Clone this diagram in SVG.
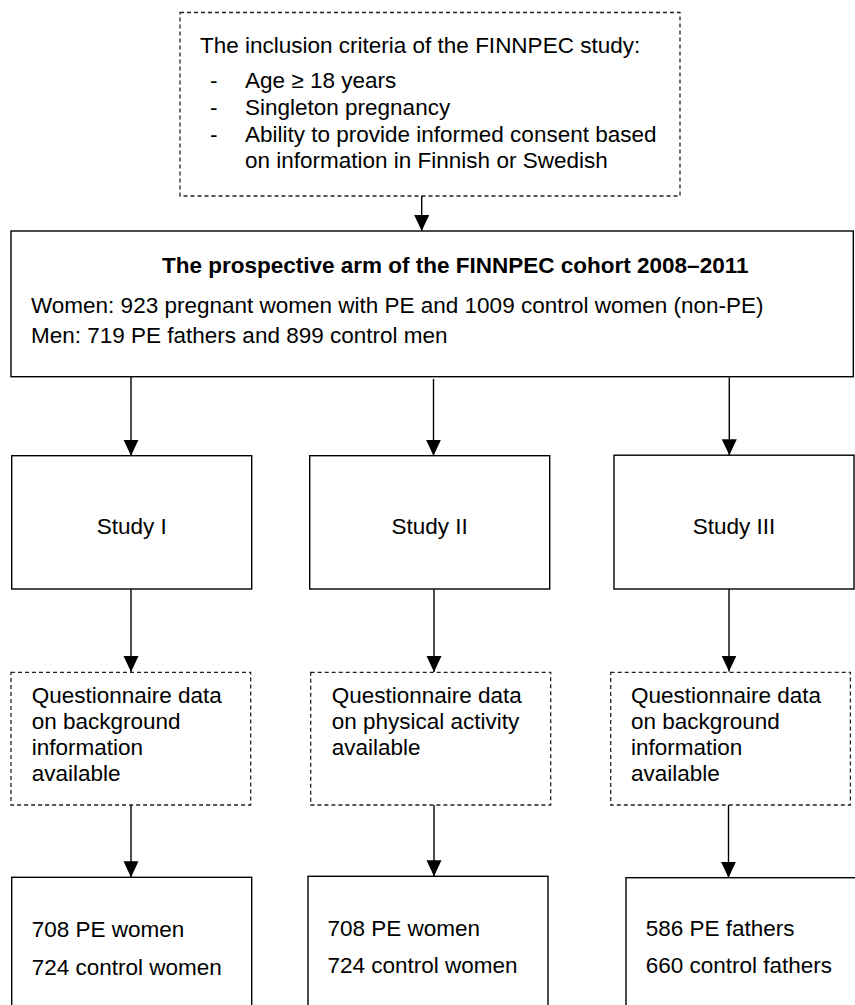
<svg xmlns="http://www.w3.org/2000/svg" width="855" height="1005" viewBox="0 0 855 1005">
<style>
.box{fill:#fff;stroke:#000;stroke-width:1.4}
.dash{fill:#fff;stroke:#222;stroke-width:1.3;stroke-dasharray:4 3}
text{font-family:"Liberation Sans",Arial,sans-serif;font-size:22.5px;fill:#000}
.b{font-weight:bold}
.mid{text-anchor:middle}
.conn line{stroke:#000;stroke-width:1.4}
</style>
<defs>
<marker id="ah" viewBox="0 0 16 16" refX="16" refY="8" markerWidth="16" markerHeight="16" markerUnits="userSpaceOnUse" orient="auto">
<path d="M0,0.5 L16,8 L0,15.5 Z" fill="#000"/>
</marker>
</defs>
<rect width="855" height="1005" fill="#fff"/>
<g id="criteria">
<rect class="dash" x="180" y="12.5" width="500" height="183.5"/>
<text x="200" y="52.7">The inclusion criteria of the FINNPEC study:</text>
<text x="210" y="88.3">-</text><text x="245" y="88.3">Age ≥ 18 years</text>
<text x="210" y="115">-</text><text x="245" y="115">Singleton pregnancy</text>
<text x="210" y="141.7">-</text><text x="245" y="141.7">Ability to provide informed consent based</text>
<text x="245" y="167.7">on information in Finnish or Swedish</text>
</g>
<g id="cohort">
<rect class="box" x="11" y="231" width="842.3" height="145.7"/>
<text class="b" x="162" y="272.7">The prospective arm of the FINNPEC cohort 2008–2011</text>
<text x="31" y="313.3">Women: 923 pregnant women with PE and 1009 control women (non-PE)</text>
<text x="31" y="342.5">Men: 719 PE fathers and 899 control men</text>
</g>
<g id="study1">
<rect class="box" x="11.7" y="455.7" width="240" height="133.3"/>
<text class="mid" x="131.7" y="534">Study I</text>
</g>
<g id="study2">
<rect class="box" x="309.7" y="455.7" width="240" height="133.3"/>
<text class="mid" x="429.7" y="534">Study II</text>
</g>
<g id="study3">
<rect class="box" x="614" y="455.2" width="240" height="133.8"/>
<text class="mid" x="734" y="533.5">Study III</text>
</g>
<g id="q1">
<rect class="dash" x="11" y="672.3" width="239.7" height="132.7"/>
<text x="31.7" y="702.7">Questionnaire data</text>
<text x="31.7" y="729">on background</text>
<text x="31.7" y="755">information</text>
<text x="31.7" y="780.7">available</text>
</g>
<g id="q2">
<rect class="dash" x="310.7" y="672.3" width="240" height="132.7"/>
<text x="331.7" y="702.7">Questionnaire data</text>
<text x="331.7" y="729">on physical activity</text>
<text x="331.7" y="755">available</text>
</g>
<g id="q3">
<rect class="dash" x="610.7" y="672.3" width="239.7" height="132.7"/>
<text x="631" y="702.7">Questionnaire data</text>
<text x="631" y="729">on background</text>
<text x="631" y="755">information</text>
<text x="631" y="780.7">available</text>
</g>
<g id="r1">
<rect class="box" x="11.7" y="877.3" width="240" height="140"/>
<text x="31.7" y="937.3">708 PE women</text>
<text x="31.7" y="975">724 control women</text>
</g>
<g id="r2">
<rect class="box" x="308" y="876.3" width="240" height="140"/>
<text x="327.5" y="935.5">708 PE women</text>
<text x="327.5" y="972.5">724 control women</text>
</g>
<g id="r3">
<rect class="box" x="626" y="877.7" width="240" height="140"/>
<text x="645.7" y="936">586 PE fathers</text>
<text x="645.7" y="973.3">660 control fathers</text>
</g>
<g class="conn">
<line x1="421.7" y1="196" x2="421.7" y2="231" marker-end="url(#ah)"/>
<line x1="131" y1="376.7" x2="131" y2="455.7" marker-end="url(#ah)"/>
<line x1="433.5" y1="379" x2="433.5" y2="455.7" marker-end="url(#ah)"/>
<line x1="729.3" y1="377.5" x2="729.3" y2="455.2" marker-end="url(#ah)"/>
<line x1="131" y1="589" x2="131" y2="672" marker-end="url(#ah)"/>
<line x1="434" y1="589" x2="434" y2="672" marker-end="url(#ah)"/>
<line x1="729" y1="589" x2="729" y2="671.5" marker-end="url(#ah)"/>
<line x1="131" y1="805" x2="131" y2="877.3" marker-end="url(#ah)"/>
<line x1="434" y1="805" x2="434" y2="876.3" marker-end="url(#ah)"/>
<line x1="728.5" y1="805" x2="728.5" y2="877.7" marker-end="url(#ah)"/>
</g>
</svg>
